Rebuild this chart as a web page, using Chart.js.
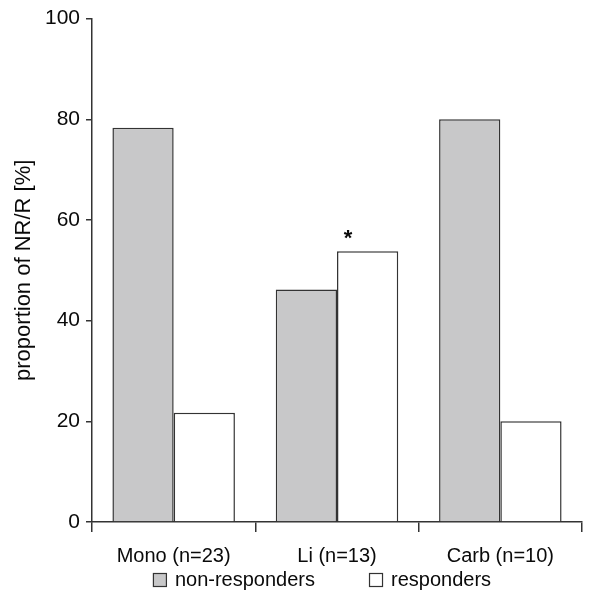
<!DOCTYPE html>
<html>
<head>
<meta charset="utf-8">
<script src="https://cdn.jsdelivr.net/npm/chart.js@4"></script>
<style>
  html, body { margin: 0; padding: 0; background: #fff; }
  #wrap { width: 614px; height: 591px; }
</style>
</head>
<body>
<div id="wrap"><canvas id="c" width="614" height="591"></canvas></div>
<script>
// Treatment groups and share (%) of non-responders / responders
const categories = ['Mono (n=23)', 'Li (n=13)', 'Carb (n=10)'];
const nonResponders = [78.3, 46.2, 80.0];
const responders = [21.7, 53.8, 20.0];
const yTicks = [0, 20, 40, 60, 80, 100];
const seriesNames = ['non-responders', 'responders'];
// Significance marker: group index and series index
const starGroup = 1;
const starSeries = 1;

const FONT = '"Liberation Sans", Arial, Helvetica, sans-serif';
const INK = '#0a0a0a';
const LINE = '#333333';

// Legend drawn below the axis labels
const bottomLegend = {
  id: 'bottomLegend',
  afterDraw(chart) {
    const ctx = chart.ctx;
    const ds = chart.data.datasets;
    ctx.save();
    ctx.font = '20px ' + FONT;
    ctx.textBaseline = 'middle';
    const box = 14, gap = 8, spacing = 54;
    const widths = ds.map(d => box + gap + ctx.measureText(d.label).width);
    const total = widths.reduce((a, b) => a + b, 0) + spacing * (ds.length - 1);
    const ca = chart.chartArea;
    let x = (ca.left + ca.right) / 2 - total / 2 - 15;
    const y = 580;
    ds.forEach((d, i) => {
      ctx.fillStyle = d.backgroundColor;
      ctx.fillRect(x, y - box / 2, box, box);
      ctx.strokeStyle = LINE;
      ctx.lineWidth = 1.2;
      ctx.strokeRect(x + 0.5, y - box / 2 + 0.5, box - 1, box - 1);
      ctx.fillStyle = INK;
      ctx.textAlign = 'left';
      ctx.fillText(d.label, x + box + gap, y);
      x += widths[i] + spacing;
    });
    ctx.restore();
  }
};

// Asterisk above the marked bar
const starMarker = {
  id: 'starMarker',
  afterDatasetsDraw(chart) {
    const bar = chart.getDatasetMeta(starSeries).data[starGroup];
    const xs = chart.scales.x;
    const ctx = chart.ctx;
    ctx.save();
    ctx.font = 'bold 22px ' + FONT;
    ctx.fillStyle = INK;
    ctx.textAlign = 'center';
    ctx.textBaseline = 'middle';
    const cx = xs.getPixelForValue(starGroup) + 11;
    ctx.fillText('*', cx, bar.y - 12);
    ctx.restore();
  }
};

new Chart(document.getElementById('c'), {
  type: 'bar',
  data: {
    labels: categories,
    datasets: [
      { label: seriesNames[0], data: nonResponders, backgroundColor: '#c8c8c9',
        borderColor: LINE, borderWidth: 1.5 },
      { label: seriesNames[1], data: responders, backgroundColor: '#ffffff',
        borderColor: LINE, borderWidth: 1.5 }
    ]
  },
  options: {
    responsive: false,
    animation: false,
    devicePixelRatio: 1,
    layout: { padding: { left: 0, right: 32, top: 16, bottom: 0 } },
    datasets: { bar: { categoryPercentage: 0.75, barPercentage: 1.0 } },
    plugins: {
      legend: { display: false },
      tooltip: { enabled: false }
    },
    scales: {
      x: {
        grid: { display: true, offset: true, drawOnChartArea: false, tickLength: 10,
                color: LINE, lineWidth: 1.5 },
        border: { display: true, color: LINE, width: 1.5 },
        ticks: { color: INK, font: { family: FONT, size: 20 }, padding: 12, maxRotation: 0 },
        afterFit(scale) { scale.height = 69; }
      },
      y: {
        min: 0, max: 100,
        afterBuildTicks(scale) { scale.ticks = yTicks.map(v => ({ value: v })); },
        grid: { display: true, drawOnChartArea: false, tickLength: 6,
                color: LINE, lineWidth: 1.5 },
        border: { display: true, color: LINE, width: 1.5 },
        ticks: { color: INK, font: { family: FONT, size: 21 }, padding: 6 },
        title: { display: true, text: 'proportion of NR/R [%]', color: INK,
                 font: { family: FONT, size: 22 }, padding: { top: 11, bottom: 0 } },
        afterFit(scale) { scale.width = 92; }
      }
    }
  },
  plugins: [bottomLegend, starMarker]
});
</script>
</body>
</html>
